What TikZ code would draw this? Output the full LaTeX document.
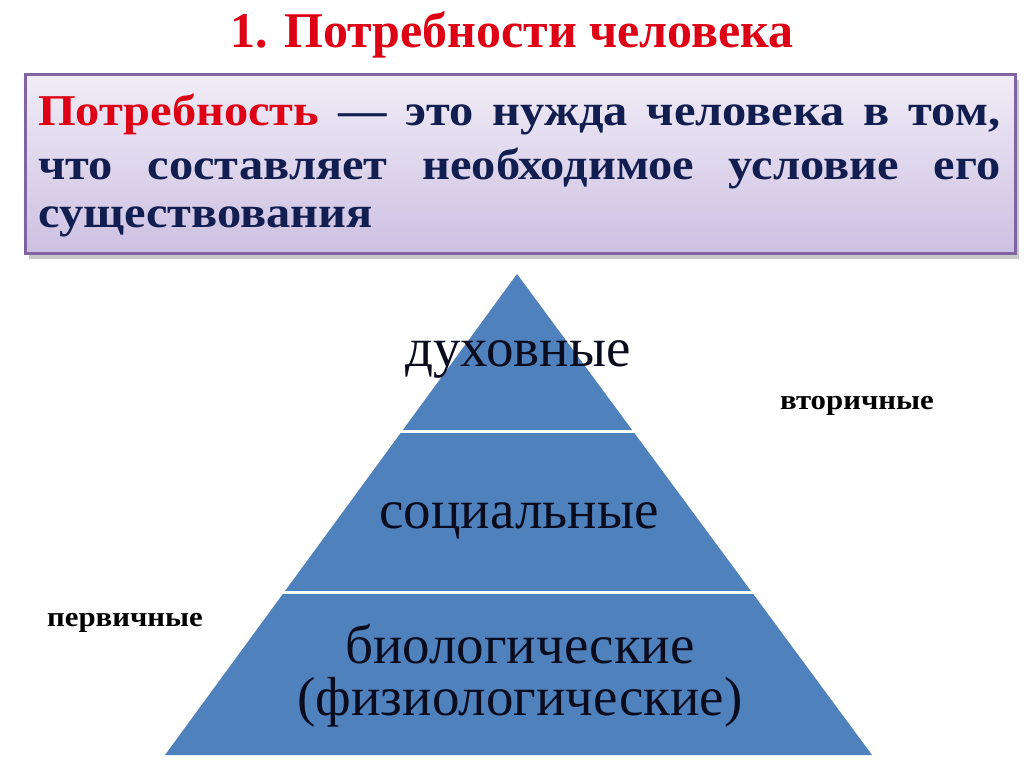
\documentclass[tikz,border=0pt]{standalone}
\usepackage{fontspec}
\setmainfont{Liberation Serif}
\newfontfamily\widebold[FakeStretch=1.1]{Liberation Serif}
\usetikzlibrary{shadings}
\definecolor{titlered}{RGB}{222,0,20}
\definecolor{navy}{RGB}{18,30,80}
\definecolor{labelink}{RGB}{10,12,30}
\definecolor{boxborder}{RGB}{128,100,162}
\definecolor{boxtop}{RGB}{240,236,247}
\definecolor{boxbot}{RGB}{205,192,226}
\definecolor{pyrblue}{RGB}{79,129,189}
\tikzset{
  titletext/.style={font=\fontsize{50}{56}\selectfont\bfseries, text=titlered, anchor=base},
  boxline/.style={font=\widebold\fontsize{44}{50}\selectfont\bfseries, text=navy, anchor=base west, inner sep=0pt},
  levellabel/.style={font=\fontsize{55}{60}\selectfont, text=labelink, anchor=base, inner sep=0pt},
  sidelabel/.style={font=\widebold\fontsize{28}{32}\selectfont\bfseries, text=black, anchor=base, inner sep=0pt},
  divider/.style={draw=white, line width=3pt}
}
\begin{document}
\begin{tikzpicture}[x=1pt,y=-1pt]
\useasboundingbox (0,0) rectangle (1024,767);
\fill[white] (0,0) rectangle (1024,767);
% title
\node[titletext] (title) at (512,48) {1. Потребности человека};
% definition box
\fill[black!35, opacity=0.6] (29,80) rectangle (1019,259);
\shade[top color=boxtop, bottom color=boxbot] (25,75) rectangle (1015,253);
\draw[boxborder, line width=3pt] (25,75) rectangle (1015,253);
\node[boxline] (l1) at (38,126) {\makebox[962pt][s]{\textcolor{titlered}{Потребность} — это нужда человека в том,}};
\node[boxline] (l2) at (38,180) {\makebox[962pt][s]{что составляет необходимое условие его}};
\node[boxline] (l3) at (38,228) {существования};
% pyramid
\coordinate (apex) at (517,274);
\coordinate (bl) at (165,755);
\coordinate (br) at (872,755);
\fill[pyrblue] (apex) -- (br) -- (bl) -- cycle;
\coordinate (d1l) at (397,431);
\coordinate (d1r) at (639,431);
\coordinate (d2l) at (280,592);
\coordinate (d2r) at (757,592);
\draw[divider] (d1l) -- (d1r);
\draw[divider] (d2l) -- (d2r);
\node[levellabel] (spirit) at (518,366) {духовные};
\node[levellabel] (social) at (519,528) {социальные};
\node[levellabel] (bio) at (520,663) {биологические};
\node[levellabel] (phys) at (520,715) {(физиологические)};
\node[sidelabel] (second) at (857,409) {вторичные};
\node[sidelabel] (first) at (125,626) {первичные};
\end{tikzpicture}
\end{document}
